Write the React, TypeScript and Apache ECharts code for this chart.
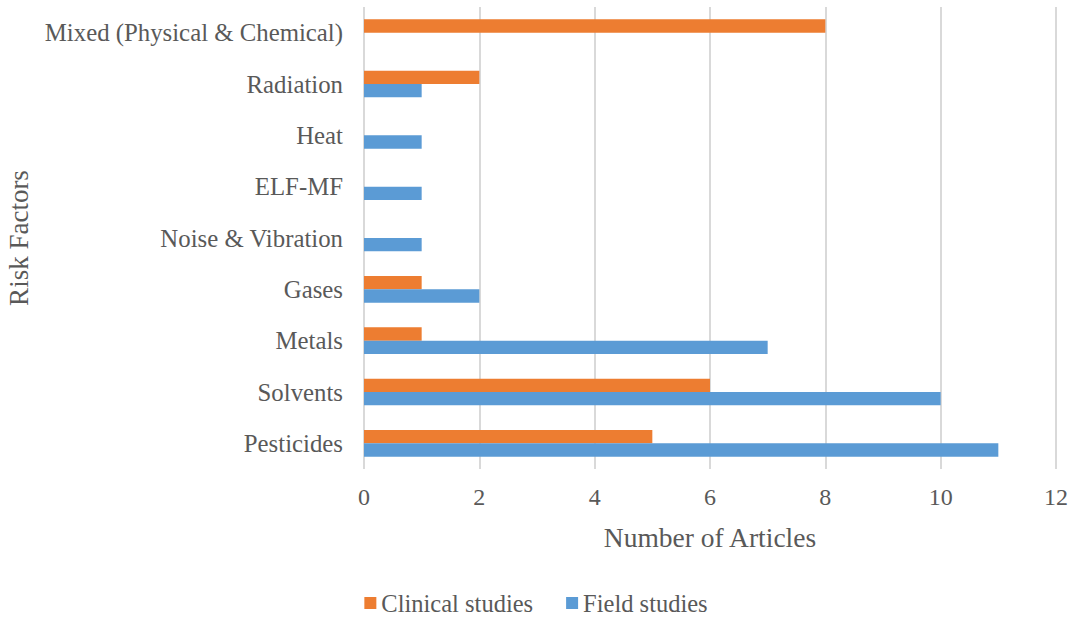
import React, { useEffect, useRef } from "react";
import * as echarts from "echarts";

const categories = [
  "Pesticides",
  "Solvents",
  "Metals",
  "Gases",
  "Noise & Vibration",
  "ELF-MF",
  "Heat",
  "Radiation",
  "Mixed (Physical & Chemical)",
];
const clinicalStudies = [5, 6, 1, 1, 0, 0, 0, 2, 8];
const fieldStudies = [11, 10, 7, 2, 1, 1, 1, 1, 0];
const xTicks = { min: 0, max: 12, interval: 2 };

const FONT = "'Liberation Serif', 'Times New Roman', serif";
const TEXT = "#595959";

export default function App() {
  const ref = useRef<HTMLDivElement>(null);
  useEffect(() => {
    if (!ref.current) return;
    const chart = echarts.init(ref.current, undefined, { renderer: "svg" });
    chart.setOption({
      animation: false,
      textStyle: { fontFamily: FONT },
      legend: {
        data: ["Clinical studies", "Field studies"],
        top: 590,
        left: "center",
        padding: 0,
        itemWidth: 12,
        itemHeight: 12,
        itemGap: 33,
        icon: "rect",
        textStyle: { fontFamily: FONT, fontSize: 24.5, lineHeight: 26, color: TEXT },
      },
      grid: {
        left: 364,
        right: 16,
        top: 7,
        bottom: 149,
        containLabel: false,
        outerBoundsMode: "none",
      },
      xAxis: {
        type: "value",
        min: xTicks.min,
        max: xTicks.max,
        interval: xTicks.interval,
        name: "Number of Articles",
        nameLocation: "middle",
        nameGap: 54,
        nameTextStyle: { fontFamily: FONT, fontSize: 27.5, color: TEXT },
        axisLabel: { fontFamily: FONT, fontSize: 24, color: TEXT, margin: 16 },
        axisLine: { show: false },
        axisTick: { show: false },
        splitLine: { lineStyle: { color: "#d9d9d9", width: 2 } },
      },
      yAxis: {
        type: "category",
        data: categories,
        name: "Risk Factors",
        nameLocation: "middle",
        nameGap: 332,
        nameRotate: 90,
        nameTextStyle: { fontFamily: FONT, fontSize: 27, color: TEXT },
        axisLabel: { fontFamily: FONT, fontSize: 24.8, color: TEXT, margin: 21 },
        axisLine: { show: false },
        axisTick: { show: false },
        splitLine: { show: false },
      },
      series: [
        {
          name: "Clinical studies",
          type: "bar",
          data: clinicalStudies,
          itemStyle: { color: "#ED7D31" },
          barGap: "0%",
          barCategoryGap: "48%",
        },
        {
          name: "Field studies",
          type: "bar",
          data: fieldStudies,
          itemStyle: { color: "#5B9BD5" },
          barGap: "0%",
          barCategoryGap: "48%",
        },
      ],
    });
    return () => chart.dispose();
  }, []);
  return <div ref={ref} style={{ width: 1072, height: 618, position: "absolute", left: 0, top: 0 }} />;
}
